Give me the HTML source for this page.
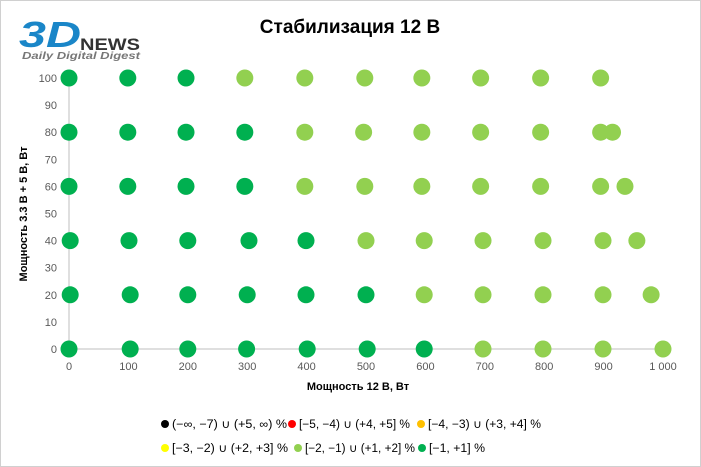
<!DOCTYPE html>
<html><head><meta charset="utf-8"><style>
body{margin:0;background:#fff;font-family:"Liberation Sans",sans-serif}
#wrap{position:relative;width:701px;height:467px;overflow:hidden}
</style></head><body>
<div id="wrap">
<svg id="svg" width="701" height="467" xmlns="http://www.w3.org/2000/svg">
<rect x="0.5" y="0.5" width="700" height="466" fill="#fff" stroke="#d0d0d0"/>
<g>
<text x="19" y="47" font-family="Liberation Sans" font-weight="bold" font-style="italic" font-size="36" fill="#1a86c8" textLength="62" lengthAdjust="spacingAndGlyphs">3D</text>
<text x="80" y="50" font-family="Liberation Sans" font-weight="bold" font-size="17" fill="#333" textLength="60" lengthAdjust="spacingAndGlyphs">NEWS</text>
<text x="22" y="59" font-family="Liberation Sans" font-weight="bold" font-style="italic" font-size="10" fill="#777" textLength="118" lengthAdjust="spacingAndGlyphs">Daily Digital Digest</text>
</g>
<text x="350" y="33" text-anchor="middle" font-size="19" font-weight="bold" fill="#000">Стабилизация 12 В</text>
<g id="axes"></g>
<g id="marks"></g>
<text x="358" y="390" text-anchor="middle" font-size="11" font-weight="bold">Мощность  12 В, Вт</text>
<text transform="translate(27,214) rotate(-90)" text-anchor="middle" font-size="11" font-weight="bold">Мощность  3.3 В + 5 В, Вт</text>
<g id="legend" font-size="11.5" fill="#000"></g>
</svg>
</div>
<script>
const xTicks=[0,100,200,300,400,500,600,700,800,900,1000];
const xTickLabels=["0","100","200","300","400","500","600","700","800","900","1 000"];
const yTicks=[0,10,20,30,40,50,60,70,80,90,100];
const darkX=[0,99,197, 0,99,197,296, 0,99,197,296, 2,101,200,303,399, 2,103,200,300,399,500, 0,103,200,299,401,502,598];
const darkY=[100,100,100, 80,80,80,80, 60,60,60,60, 40,40,40,40,40, 20,20,20,20,20,20, 0,0,0,0,0,0,0];
const lightX=[296,397,498,594,693,794,895, 397,496,594,693,794,895,915, 397,498,594,693,794,895,936, 500,598,697,798,899,956, 598,697,798,899,980, 697,798,899,1000];
const lightY=[100,100,100,100,100,100,100, 80,80,80,80,80,80,80, 60,60,60,60,60,60,60, 40,40,40,40,40,40, 20,20,20,20,20, 0,0,0,0];
const legendLabels=["(−∞, −7) ∪ (+5, ∞) %","[−5, −4) ∪ (+4, +5] %","[−4, −3) ∪ (+3, +4] %","[−3, −2) ∪ (+2, +3] %","[−2, −1) ∪ (+1, +2] %","[−1, +1] %"];
const legendColors=["#000000","#ff0000","#ffc000","#ffff00","#92d050","#00b050"];

const NS="http://www.w3.org/2000/svg";
const X0=69,X1=663,Y0=349,Y1=78;
const sx=v=>X0+(X1-X0)*v/1000;
const sy=v=>Y0-(Y0-Y1)*v/100;
function mk(tag,attrs,parent){const e=document.createElementNS(NS,tag);for(const k in attrs)e.setAttribute(k,attrs[k]);parent.appendChild(e);return e;}
const axes=document.getElementById('axes');
let l=mk('line',{x1:X0,y1:Y0,x2:X1+8,y2:Y0,stroke:'#bfbfbf'},axes);


l=mk('line',{x1:X0,y1:Y0,x2:X0,y2:Y1-8,stroke:'#bfbfbf'},axes);


xTicks.forEach((v,i)=>{const t=mk('text',{x:sx(v),y:Y0+21,'text-anchor':'middle','font-size':'11',fill:'#595959'},axes);t.textContent=xTickLabels[i];

});
yTicks.forEach(v=>{const t=mk('text',{x:57,y:sy(v)+4,'text-anchor':'end','font-size':'11',fill:'#595959'},axes);t.textContent=v;

});
const marks=document.getElementById('marks');
lightX.forEach((v,i)=>{const c=mk('circle',{cx:sx(v),cy:sy(lightY[i]),r:8.5,fill:'#92d050'},marks);

});
darkX.forEach((v,i)=>{const c=mk('circle',{cx:sx(v),cy:sy(darkY[i]),r:8.5,fill:'#00b050'},marks);

});
const lg=document.getElementById('legend');
const lx=[165,292,421,165,298,422],ly=[428,428,428,452,452,452],lw=[115,111,113,116,110,56];
legendLabels.forEach((s,i)=>{
const g=mk('g',{},lg);


mk('circle',{cx:lx[i],cy:ly[i]-4,r:4,fill:legendColors[i]},g);
const t=mk('text',{x:lx[i]+7,y:ly[i],textLength:lw[i],lengthAdjust:'spacingAndGlyphs'},g);t.textContent=s;});
</script>
</body></html>
